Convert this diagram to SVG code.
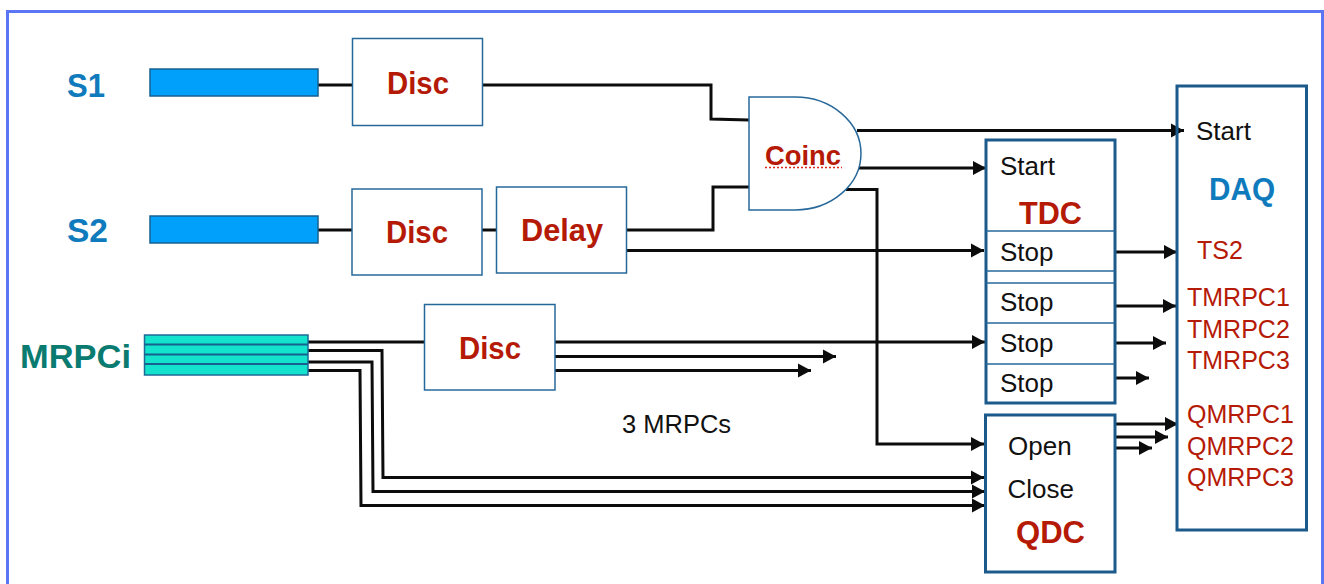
<svg xmlns="http://www.w3.org/2000/svg" width="1324" height="584" viewBox="0 0 1324 584">
<style>
text{font-family:"Liberation Sans",Arial,sans-serif}
.box{fill:#fff;stroke:#27689a;stroke-width:1.5}
.hbox{fill:#fff;stroke:#1c5a8c;stroke-width:3}
.div{stroke:#27689a;stroke-width:1.5;fill:none}
.w{fill:none;stroke:#0c0c0c;stroke-width:3}
.a{marker-end:url(#ah)}
.red{fill:#b51a06;font-weight:bold}
.rl{fill:#b51a06;font-size:25px}
.blk{fill:#111;font-size:26px}
.lbl{fill:#0f7bbd;font-weight:bold}
</style>
<defs>
<marker id="ah" markerUnits="userSpaceOnUse" markerWidth="14" markerHeight="16" refX="13" refY="8" orient="auto"><path d="M0 1L13 8L0 15Z" fill="#0c0c0c"/></marker>
</defs>
<rect id="frame" x="7.500" y="11.500" width="1315" height="600" fill="#fff" stroke="#5a76f4" stroke-width="3"/>
<g id="connectors">
<path class="w" d="M318 85H353"/>
<path class="w" d="M483 85H711V119L749 120"/>
<path class="w" d="M318 230H353"/>
<path class="w" d="M482 230H497"/>
<path class="w" d="M627 230H713V187H749"/>
<path class="w a" d="M627 250.500H984"/>
<path class="w a" d="M857 130.500H1184"/>
<path class="w a" d="M859 168H986"/>
<path class="w a" d="M846 189.500H877V444H984"/>
<path class="w" d="M308 342H425"/>
<path class="w a" d="M555 342H985"/>
<path class="w a" d="M554 356.500H836"/>
<path class="w a" d="M555 370.500H811"/>
<path class="w a" d="M308 350.500H382L383 477.500H984"/>
<path class="w a" d="M308 362H372L373 491.500H985"/>
<path class="w a" d="M308 370.500H360L361 505.500H985"/>
<path class="w a" d="M1115 252H1177"/>
<path class="w a" d="M1116 306H1176"/>
<path class="w a" d="M1116 343H1166"/>
<path class="w a" d="M1116 378H1149"/>
<path class="w a" d="M1116 424H1178"/>
<path class="w a" d="M1116 437H1168"/>
<path class="w a" d="M1116 448H1152"/>
</g>
<g id="s1"><text class="lbl" x="67" y="97" font-size="33" textLength="38" lengthAdjust="spacingAndGlyphs">S1</text><rect x="150" y="69" width="168" height="27" fill="#00a0fb" stroke="#17608f" stroke-width="1.500"/></g>
<g id="s2"><text class="lbl" x="67" y="242" font-size="33" textLength="41" lengthAdjust="spacingAndGlyphs">S2</text><rect x="150" y="216" width="168" height="27" fill="#00a0fb" stroke="#17608f" stroke-width="1.500"/></g>
<g id="mrpci"><text x="20" y="368" font-size="34" font-weight="bold" fill="#0a7b70" textLength="111" lengthAdjust="spacingAndGlyphs">MRPCi</text><rect x="144.500" y="335" width="163.500" height="40" fill="#13e2cc" stroke="#1c6a96" stroke-width="1.500"/><path d="M144.500 344.500H308M144.500 354.500H308M144.500 364H308" stroke="#17608f" stroke-width="2" fill="none"/></g>
<g id="disc1"><rect class="box" x="352.500" y="38.500" width="130" height="87"/><text class="red" x="387" y="94" font-size="31" textLength="62" lengthAdjust="spacingAndGlyphs">Disc</text></g>
<g id="disc2"><rect class="box" x="352" y="189" width="130" height="86"/><text class="red" x="386" y="243" font-size="31" textLength="62" lengthAdjust="spacingAndGlyphs">Disc</text></g>
<g id="delay"><rect class="box" x="496.500" y="187" width="130" height="86"/><text class="red" x="521" y="241" font-size="31" textLength="82" lengthAdjust="spacingAndGlyphs">Delay</text></g>
<g id="disc3"><rect class="box" x="424.500" y="304.500" width="130.500" height="85.500"/><text class="red" x="459" y="359" font-size="31" textLength="62" lengthAdjust="spacingAndGlyphs">Disc</text></g>
<g id="coinc"><path class="box" d="M749 97H795A66 56.500 0 0 1 795 210H749Z"/><text class="red" x="765" y="165" font-size="28" textLength="76" lengthAdjust="spacingAndGlyphs">Coinc</text><path d="M765 167.500H842" stroke="#e0281c" stroke-width="1.500" stroke-dasharray="2 2" fill="none"/></g>
<g id="tdc"><rect class="hbox" x="986" y="140" width="129" height="263"/><path class="div" d="M986 231H1115M986 271H1115M986 283H1115M986 323H1115M986 364H1115"/>
<text class="blk" x="1000" y="175">Start</text><text class="red" x="1019" y="224" font-size="31" textLength="63" lengthAdjust="spacingAndGlyphs">TDC</text>
<text class="blk" x="1000" y="261">Stop</text><text class="blk" x="1000" y="311">Stop</text><text class="blk" x="1000" y="352">Stop</text><text class="blk" x="1000" y="392">Stop</text></g>
<g id="qdc"><rect class="hbox" x="985.500" y="415" width="129.500" height="157"/><text class="blk" x="1008" y="455">Open</text><text class="blk" x="1007.500" y="498">Close</text><text class="red" x="1016" y="543" font-size="31" textLength="69" lengthAdjust="spacingAndGlyphs">QDC</text></g>
<g id="daq"><rect class="hbox" x="1177" y="86" width="129.500" height="444" style="fill:none"/><text class="blk" x="1196" y="140">Start</text><text class="lbl" x="1209" y="200" font-size="31" textLength="66" lengthAdjust="spacingAndGlyphs">DAQ</text>
<text class="rl" x="1197" y="259">TS2</text><text class="rl" x="1187" y="306">TMRPC1</text><text class="rl" x="1187" y="338">TMRPC2</text><text class="rl" x="1187" y="369">TMRPC3</text><text class="rl" x="1187" y="423">QMRPC1</text><text class="rl" x="1187" y="455">QMRPC2</text><text class="rl" x="1187" y="486">QMRPC3</text></g>
<text id="note" x="622" y="433" font-size="25.500" fill="#111">3 MRPCs</text>
</svg>
